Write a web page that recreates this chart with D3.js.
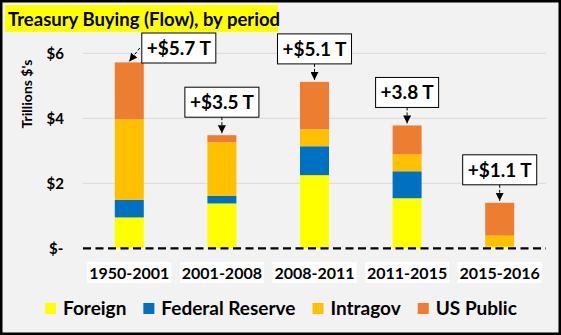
<!DOCTYPE html>
<html><head><meta charset="utf-8">
<script src="https://cdn.jsdelivr.net/npm/d3@7"></script>
<style>
html,body{margin:0;padding:0;background:#fff;}
svg{display:block;}
text{font-family:Lato,"Open Sans",sans-serif;font-weight:bold;fill:#000;}
</style></head><body>
<svg id="chart" width="561" height="335"></svg>
<script>
// Net Treasury purchases by holder group, trillions of dollars per period
const periods = ["1950-2001", "2001-2008", "2008-2011", "2011-2015", "2015-2016"];
const foreign = [0.95, 1.38, 2.25, 1.54, 0.05];
const fedReserve = [0.54, 0.23, 0.89, 0.83, 0.00];
const intragov = [2.48, 1.65, 0.52, 0.52, 0.34];
const usPublic = [1.75, 0.22, 1.46, 0.89, 1.01];
const seriesNames = ["Foreign", "Federal Reserve", "Intragov", "US Public"];
const callouts = ["+$5.7 T", "+$3.5 T", "+$5.1 T", "+3.8 T", "+$1.1 T"];
const yTicks = [0, 2, 4, 6];

const colors = ["#ffff00", "#0070c0", "#ffc000", "#ed7d31"];
const W = 561, H = 335;
const svg = d3.select("#chart");

// frame
svg.append("rect").attr("x", 1.25).attr("y", 1.25).attr("width", W - 2.5).attr("height", H - 2.5)
  .attr("fill", "#f2f2f2").attr("stroke", "#000").attr("stroke-width", 2.5);

// title
svg.append("rect").attr("x", 5).attr("y", 5).attr("width", 273).attr("height", 27).attr("fill", "#ffff00");
svg.append("text").attr("x", 8).attr("y", 26).attr("font-size", 18.5).text("Treasury Buying (Flow), by period");

const rows = periods.map((p, i) => ({
  period: p,
  "Foreign": foreign[i],
  "Federal Reserve": fedReserve[i],
  "Intragov": intragov[i],
  "US Public": usPublic[i]
}));
const stacked = d3.stack().keys(seriesNames)(rows);
const totals = rows.map(r => d3.sum(seriesNames, k => r[k]));

const x = d3.scaleBand().domain(periods).range([83, 546]).paddingInner(0.687).paddingOuter(0.3435);
const y = d3.scaleLinear().domain([0, 6]).range([248.3, 53.3]);

// gridlines
svg.append("g").selectAll("line").data(yTicks.filter(d => d > 0)).join("line")
  .attr("x1", 83).attr("x2", 546).attr("y1", d => y(d)).attr("y2", d => y(d))
  .attr("stroke", "#d9d9d9").attr("stroke-width", 1);

// y axis labels
const yAxis = d3.axisLeft(y).tickValues(yTicks).tickSize(0).tickPadding(0)
  .tickFormat(d => d === 0 ? "$- " : "$" + d);
const yg = svg.append("g").attr("transform", "translate(64,0)").call(yAxis);
yg.select(".domain").remove();
yg.selectAll("text").attr("font-size", 15).attr("font-family", "Lato, sans-serif")
  .attr("font-weight", "bold").style("white-space", "pre").attr("dy", "0.35em").attr("dx", d => d === 0 ? 3 : 0);

svg.append("text").attr("transform", "translate(32,94) rotate(-90)").attr("text-anchor", "middle")
  .attr("font-size", 14).text("Trillions $'s");

// bars
svg.append("g").selectAll("g").data(stacked).join("g").attr("fill", (d, i) => colors[i])
  .selectAll("rect").data(d => d).join("rect")
  .attr("x", d => x(d.data.period)).attr("width", x.bandwidth())
  .attr("y", d => y(d[1])).attr("height", d => Math.max(0, y(d[0]) - y(d[1])));

// zero baseline
svg.append("line").attr("x1", 83).attr("x2", 546).attr("y1", y(0)).attr("y2", y(0))
  .attr("stroke", "#000").attr("stroke-width", 2.25).attr("stroke-dasharray", "8,4.5");

// category labels on white chips
const xAxis = svg.append("g");
periods.forEach(p => {
  const cx = x(p) + x.bandwidth() / 2;
  const t = xAxis.append("text").attr("x", cx).attr("y", 278.5).attr("text-anchor", "middle")
    .attr("font-size", 16).text(p);
  const w = t.node().getComputedTextLength();
  xAxis.insert("rect", "text").attr("x", cx - w / 2 - 2).attr("y", 262).attr("width", w + 4).attr("height", 21).attr("fill", "#fff");
});

// arrow marker
svg.append("defs").append("marker").attr("id", "arr").attr("markerUnits", "userSpaceOnUse")
  .attr("viewBox", "0 0 10 10").attr("refX", 10).attr("refY", 5)
  .attr("markerWidth", 8).attr("markerHeight", 8).attr("orient", "auto")
  .append("path").attr("d", "M0,0L10,5L0,10Z").attr("fill", "#000");

// callouts
const boxH = 30, plotTop = 33;
const cg = svg.append("g");
callouts.forEach((label, i) => {
  const cx = x(periods[i]) + x.bandwidth() / 2;
  const yTop = y(totals[i]);
  const t = cg.append("text").attr("font-size", 19).attr("text-anchor", "middle").text(label);
  const tw = t.node().getComputedTextLength();
  const boxW = tw + 10;
  let bottom = yTop - 18, bx = cx, clamped = false;
  if (bottom - boxH < plotTop) {
    bottom = plotTop + boxH;
    bx = cx + x.bandwidth() / 2 - 2 + boxW / 2;
    clamped = true;
  }
  t.attr("x", bx).attr("y", bottom - boxH / 2 + 7);
  cg.insert("rect", "text").attr("x", bx - boxW / 2).attr("y", bottom - boxH).attr("width", boxW).attr("height", boxH)
    .attr("fill", "#fff").attr("stroke", "#000").attr("stroke-width", 1);
  const line = cg.append("line").attr("stroke", "#000").attr("stroke-width", 1)
    .attr("stroke-dasharray", "3,2").attr("marker-end", "url(#arr)");
  if (clamped) {
    line.attr("x1", bx - boxW / 2 - 2).attr("y1", bottom - boxH / 2).attr("x2", cx).attr("y2", yTop - 1);
  } else {
    line.attr("x1", cx).attr("y1", bottom).attr("x2", cx).attr("y2", yTop - 2);
  }
});

// legend
const lg = svg.append("g");
let lx = 45;
seriesNames.forEach((name, i) => {
  lg.append("rect").attr("x", lx).attr("y", 303).attr("width", 11).attr("height", 11).attr("fill", colors[i]);
  const t = lg.append("text").attr("x", lx + 18).attr("y", 315).attr("font-size", 19).text(name);
  lx += 18 + t.node().getComputedTextLength() + 17;
});
</script>
</body></html>
